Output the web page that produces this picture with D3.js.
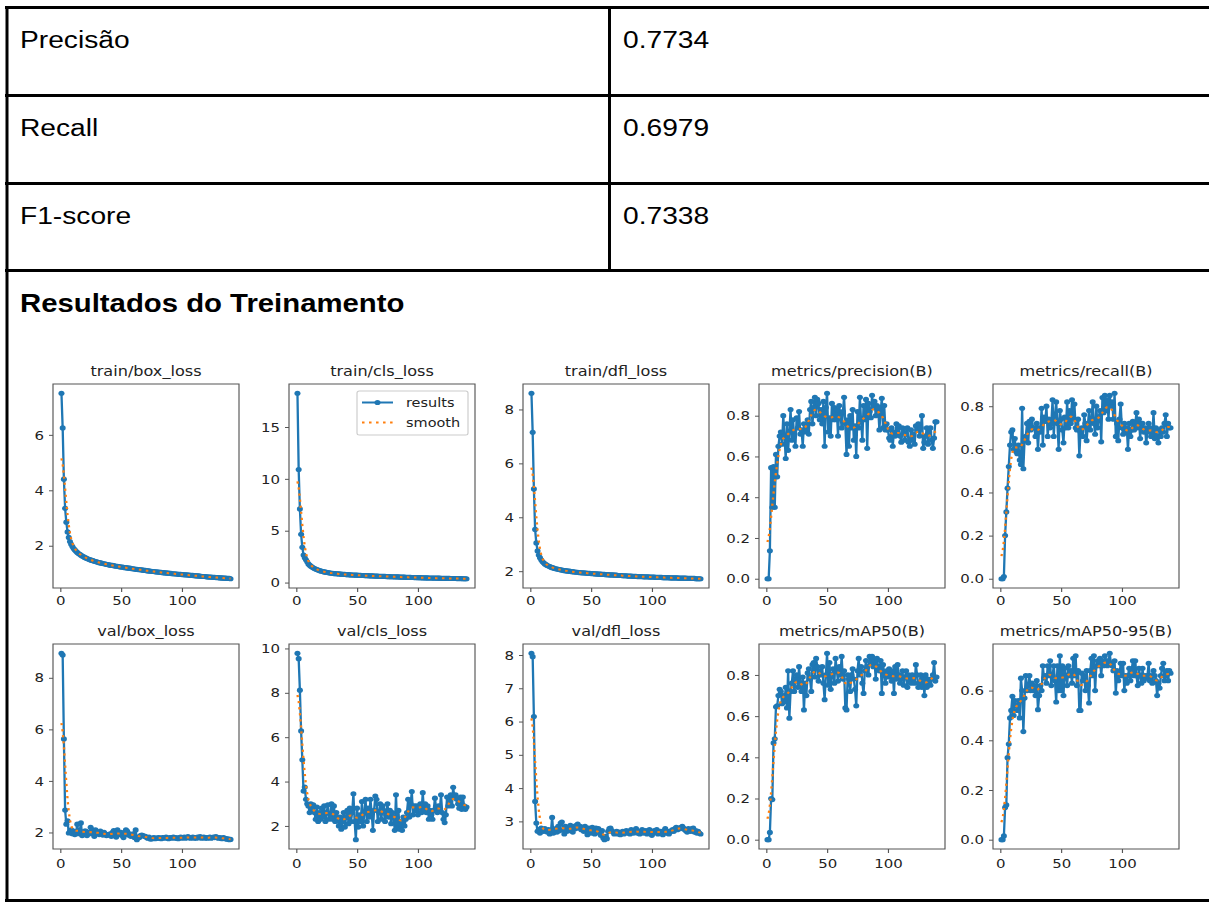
<!DOCTYPE html>
<html><head><meta charset="utf-8">
<script src="https://cdn.jsdelivr.net/npm/d3@7"></script>
<style>
html,body{margin:0;padding:0;background:#fff;}
svg{display:block;}
</style></head><body>
<svg id="chart" width="1209" height="902"></svg>
<script>
// ---------- data ----------
const metricNames = ["Precisão", "Recall", "F1-score"];
const metricValues = ["0.7734", "0.6979", "0.7338"];
const sectionTitle = "Resultados do Treinamento";
const epochs = d3.range(1, 141);
const xTickValues = [0, 50, 100];
const legendLabels = ["results", "smooth"];

const trainBoxLoss = [
7.50,6.25,4.40,3.35,2.85,2.50,2.30,2.15,2.05,1.97,
1.90,1.85,1.80,1.76,1.72,1.69,1.66,1.63,1.61,1.58,
1.56,1.54,1.52,1.50,1.49,1.47,1.46,1.44,1.43,1.42,
1.40,1.39,1.38,1.37,1.36,1.35,1.34,1.33,1.32,1.31,
1.30,1.29,1.29,1.28,1.27,1.26,1.26,1.25,1.24,1.23,
1.23,1.22,1.21,1.21,1.20,1.19,1.19,1.18,1.17,1.17,
1.16,1.15,1.15,1.14,1.14,1.13,1.13,1.12,1.11,1.11,
1.10,1.09,1.09,1.08,1.08,1.07,1.07,1.06,1.06,1.05,
1.05,1.04,1.04,1.03,1.03,1.02,1.02,1.01,1.01,1.00,
1.00,0.99,0.99,0.99,0.98,0.98,0.97,0.97,0.97,0.96,
0.96,0.95,0.95,0.95,0.94,0.94,0.93,0.93,0.93,0.92,
0.92,0.91,0.91,0.91,0.90,0.90,0.89,0.89,0.89,0.88,
0.88,0.87,0.87,0.87,0.86,0.86,0.86,0.85,0.85,0.85,
0.84,0.84,0.84,0.83,0.83,0.83,0.82,0.82,0.82,0.81];

const trainClsLoss = [
18.25,10.90,7.10,4.65,3.40,2.65,2.40,2.20,2.00,1.80,
1.68,1.58,1.50,1.42,1.35,1.30,1.25,1.20,1.16,1.12,
1.09,1.06,1.03,1.00,0.98,0.96,0.94,0.92,0.90,0.89,
0.87,0.86,0.85,0.84,0.83,0.82,0.81,0.80,0.79,0.78,
0.77,0.76,0.76,0.75,0.74,0.73,0.73,0.72,0.71,0.71,
0.70,0.69,0.69,0.68,0.68,0.67,0.67,0.66,0.66,0.65,
0.65,0.64,0.64,0.63,0.63,0.62,0.62,0.61,0.61,0.60,
0.60,0.59,0.59,0.58,0.58,0.57,0.57,0.56,0.56,0.55,
0.55,0.55,0.54,0.54,0.53,0.53,0.52,0.52,0.52,0.51,
0.51,0.50,0.50,0.50,0.49,0.49,0.48,0.48,0.48,0.47,
0.47,0.47,0.46,0.46,0.46,0.45,0.45,0.45,0.44,0.44,
0.44,0.43,0.43,0.43,0.43,0.42,0.42,0.42,0.41,0.41,
0.41,0.41,0.40,0.40,0.40,0.40,0.39,0.39,0.39,0.39,
0.39,0.38,0.38,0.38,0.38,0.38,0.37,0.37,0.37,0.37];

const trainDflLoss = [
8.60,7.15,5.05,3.55,3.05,2.75,2.60,2.50,2.42,2.36,
2.31,2.27,2.24,2.21,2.19,2.17,2.15,2.13,2.12,2.10,
2.09,2.08,2.07,2.06,2.05,2.04,2.03,2.02,2.02,2.01,
2.00,2.00,1.99,1.98,1.98,1.97,1.97,1.96,1.96,1.95,
1.95,1.94,1.94,1.94,1.93,1.93,1.92,1.92,1.92,1.91,
1.91,1.91,1.90,1.90,1.90,1.89,1.89,1.89,1.88,1.88,
1.88,1.87,1.87,1.87,1.86,1.86,1.86,1.86,1.85,1.85,
1.85,1.84,1.84,1.84,1.84,1.83,1.83,1.83,1.83,1.82,
1.82,1.82,1.82,1.81,1.81,1.81,1.81,1.80,1.80,1.80,
1.80,1.80,1.79,1.79,1.79,1.79,1.79,1.78,1.78,1.78,
1.78,1.78,1.77,1.77,1.77,1.77,1.77,1.77,1.76,1.76,
1.76,1.76,1.76,1.76,1.75,1.75,1.75,1.75,1.75,1.75,
1.75,1.74,1.74,1.74,1.74,1.74,1.74,1.74,1.73,1.73,
1.73,1.73,1.73,1.73,1.73,1.72,1.72,1.72,1.72,1.72];

const precisionB = [
0.00,0.00,0.137,0.545,0.35,0.55,0.35,0.61,0.50,0.65,
0.70,0.72,0.66,0.80,0.70,0.59,0.76,0.63,0.72,0.83,
0.68,0.78,0.70,0.65,0.79,0.74,0.82,0.71,0.73,0.65,
0.76,0.72,0.73,0.78,0.71,0.83,0.87,0.76,0.84,0.89,
0.80,0.88,0.86,0.78,0.83,0.76,0.87,0.65,0.84,0.91,
0.72,0.79,0.70,0.86,0.78,0.84,0.78,0.83,0.70,0.85,
0.80,0.74,0.82,0.89,0.76,0.61,0.78,0.65,0.80,0.74,
0.83,0.68,0.75,0.60,0.82,0.74,0.89,0.77,0.68,0.85,
0.78,0.88,0.64,0.86,0.82,0.79,0.90,0.84,0.87,0.80,
0.85,0.84,0.73,0.82,0.885,0.74,0.85,0.73,0.76,0.73,
0.69,0.68,0.74,0.65,0.72,0.70,0.76,0.71,0.75,0.70,
0.67,0.74,0.72,0.68,0.71,0.74,0.67,0.65,0.73,0.68,
0.71,0.66,0.75,0.73,0.76,0.70,0.74,0.80,0.64,0.67,
0.70,0.74,0.66,0.72,0.74,0.68,0.64,0.69,0.77,0.77];

const recallB = [
0.00,0.00,0.01,0.20,0.31,0.42,0.52,0.62,0.68,0.69,
0.60,0.65,0.59,0.58,0.62,0.55,0.53,0.79,0.51,0.64,
0.66,0.72,0.63,0.73,0.69,0.74,0.70,0.70,0.66,0.72,
0.60,0.70,0.68,0.79,0.62,0.75,0.73,0.80,0.66,0.74,
0.70,0.72,0.83,0.66,0.76,0.82,0.72,0.60,0.78,0.74,
0.69,0.63,0.75,0.70,0.82,0.70,0.78,0.72,0.83,0.74,
0.81,0.70,0.69,0.74,0.57,0.68,0.70,0.66,0.76,0.72,
0.64,0.71,0.78,0.69,0.74,0.82,0.72,0.67,0.80,0.70,
0.75,0.78,0.635,0.84,0.77,0.85,0.78,0.83,0.74,0.85,
0.80,0.82,0.74,0.86,0.66,0.72,0.64,0.74,0.81,0.70,
0.67,0.72,0.68,0.70,0.60,0.72,0.66,0.69,0.73,0.69,
0.72,0.77,0.70,0.74,0.65,0.72,0.72,0.68,0.70,0.63,
0.68,0.72,0.70,0.66,0.67,0.77,0.65,0.70,0.66,0.63,
0.69,0.66,0.70,0.68,0.72,0.76,0.66,0.72,0.70,0.70];

const valBoxLoss = [
8.95,8.88,5.63,2.87,2.32,2.45,1.98,2.05,2.10,1.95,
2.05,1.92,2.00,2.32,1.95,2.05,2.37,1.88,1.92,2.05,
2.05,1.88,2.00,1.95,2.20,2.10,1.95,1.85,2.10,1.98,
2.00,1.92,2.05,1.98,1.90,2.00,1.95,1.88,1.92,1.90,
1.95,1.85,2.00,2.07,1.95,1.82,2.10,1.98,1.92,2.00,
1.88,1.80,1.95,2.10,2.05,1.90,1.95,1.85,1.90,1.95,
1.80,2.10,1.72,1.82,1.80,1.88,1.90,1.88,1.85,1.85,
1.80,1.78,1.82,1.75,1.75,1.78,1.80,1.76,1.78,1.78,
1.80,1.78,1.76,1.80,1.78,1.80,1.82,1.78,1.76,1.80,
1.78,1.80,1.82,1.78,1.80,1.78,1.76,1.80,1.82,1.78,
1.80,1.82,1.78,1.80,1.84,1.80,1.78,1.80,1.82,1.78,
1.80,1.78,1.82,1.80,1.84,1.78,1.80,1.82,1.78,1.80,
1.78,1.80,1.82,1.78,1.80,1.82,1.80,1.84,1.80,1.78,
1.80,1.78,1.76,1.80,1.78,1.76,1.74,1.75,1.72,1.73];

const valClsLoss = [
9.78,9.54,8.12,6.28,4.98,3.57,3.75,3.20,3.00,2.90,
2.60,3.00,2.75,2.95,2.60,2.30,2.85,2.20,2.60,2.30,
2.80,2.40,2.90,2.20,2.60,2.95,2.30,2.50,3.00,2.30,
2.90,2.20,2.60,2.40,2.00,2.40,1.85,2.20,2.60,1.95,
2.40,2.70,2.10,2.80,2.20,2.60,3.45,2.20,1.38,2.80,
1.95,2.50,2.20,3.10,2.00,2.60,3.20,2.20,2.80,2.40,
3.20,2.60,1.80,2.70,3.35,3.20,2.20,2.60,3.00,2.30,
2.90,2.70,2.20,2.50,3.00,2.40,2.70,2.10,2.60,2.40,
1.80,3.40,1.90,2.70,1.85,2.20,1.80,2.40,2.00,2.30,
2.60,3.20,2.40,3.00,3.55,2.50,2.90,2.70,2.90,2.50,
2.80,3.00,2.60,3.50,2.70,3.00,2.60,2.90,2.30,2.70,
2.50,2.30,2.70,3.25,2.80,2.60,2.90,2.70,3.40,2.60,
2.30,2.15,2.50,3.30,2.90,3.10,3.40,2.90,3.74,3.30,
3.40,3.20,3.00,2.80,3.30,2.75,3.30,2.90,2.75,2.85];

const valDflLoss = [
8.05,7.95,6.15,3.60,2.95,2.70,2.75,2.65,2.80,2.75,
2.70,2.78,2.72,2.68,2.75,2.62,2.70,3.12,2.65,2.72,
2.78,2.68,2.85,2.72,2.95,2.98,2.75,2.62,2.85,2.70,
2.80,2.72,2.88,2.75,2.68,2.85,2.78,2.88,2.92,2.80,
2.85,2.75,2.82,2.70,2.85,2.78,2.60,2.80,2.72,2.65,
2.82,2.75,2.62,2.80,2.72,2.78,2.65,2.58,2.72,2.50,
2.45,2.55,2.48,2.70,2.78,2.80,2.72,2.68,2.62,2.65,
2.70,2.62,2.68,2.60,2.65,2.70,2.62,2.68,2.72,2.65,
2.70,2.62,2.75,2.68,2.65,2.72,2.78,2.65,2.70,2.62,
2.68,2.75,2.65,2.70,2.72,2.62,2.68,2.75,2.70,2.58,
2.65,2.72,2.68,2.75,2.62,2.68,2.70,2.65,2.60,2.72,
2.78,2.65,2.70,2.62,2.68,2.72,2.75,2.70,2.78,2.82,
2.75,2.80,2.78,2.82,2.85,2.80,2.75,2.72,2.68,2.78,
2.72,2.70,2.78,2.80,2.68,2.72,2.65,2.70,2.65,2.62];

const mAP50B = [
0.00,0.00,0.035,0.20,0.195,0.47,0.49,0.645,0.65,0.70,
0.73,0.72,0.66,0.70,0.67,0.74,0.64,0.82,0.59,0.72,
0.76,0.82,0.72,0.78,0.80,0.74,0.84,0.76,0.72,0.79,
0.63,0.76,0.70,0.81,0.83,0.78,0.72,0.85,0.86,0.79,
0.88,0.84,0.77,0.82,0.80,0.84,0.76,0.68,0.80,0.905,
0.75,0.86,0.73,0.80,0.83,0.76,0.88,0.82,0.77,0.84,
0.80,0.89,0.78,0.82,0.64,0.63,0.80,0.78,0.72,0.80,
0.83,0.78,0.73,0.65,0.82,0.88,0.80,0.84,0.76,0.71,
0.82,0.87,0.84,0.80,0.89,0.86,0.89,0.84,0.87,0.78,
0.88,0.84,0.82,0.87,0.71,0.85,0.81,0.76,0.82,0.79,
0.83,0.80,0.77,0.82,0.71,0.84,0.78,0.85,0.80,0.76,
0.78,0.82,0.75,0.79,0.82,0.74,0.80,0.78,0.76,0.80,
0.78,0.76,0.85,0.80,0.74,0.76,0.80,0.74,0.79,0.70,
0.80,0.74,0.78,0.76,0.75,0.78,0.80,0.86,0.77,0.79];

const mAP5095B = [
0.00,0.00,0.015,0.13,0.14,0.33,0.385,0.49,0.52,0.577,
0.50,0.56,0.54,0.52,0.56,0.49,0.65,0.60,0.435,0.57,
0.66,0.60,0.62,0.66,0.60,0.63,0.60,0.62,0.58,0.64,
0.523,0.58,0.62,0.60,0.70,0.65,0.66,0.63,0.70,0.66,
0.72,0.62,0.66,0.70,0.64,0.554,0.70,0.60,0.74,0.60,
0.70,0.58,0.69,0.66,0.62,0.70,0.66,0.68,0.63,0.73,
0.66,0.74,0.62,0.68,0.52,0.52,0.67,0.64,0.66,0.60,
0.68,0.62,0.55,0.68,0.73,0.66,0.74,0.60,0.70,0.72,
0.70,0.73,0.66,0.72,0.70,0.74,0.72,0.70,0.72,0.75,
0.71,0.70,0.68,0.72,0.59,0.68,0.64,0.66,0.71,0.66,
0.71,0.60,0.66,0.63,0.66,0.69,0.64,0.68,0.72,0.66,
0.72,0.66,0.62,0.69,0.66,0.63,0.69,0.64,0.66,0.65,
0.66,0.71,0.64,0.66,0.63,0.68,0.66,0.64,0.58,0.63,
0.61,0.66,0.69,0.71,0.64,0.66,0.68,0.64,0.68,0.67];

const panelTitles = ["train/box_loss","train/cls_loss","train/dfl_loss","metrics/precision(B)","metrics/recall(B)",
                     "val/box_loss","val/cls_loss","val/dfl_loss","metrics/mAP50(B)","metrics/mAP50-95(B)"];
const panelSeries = [trainBoxLoss, trainClsLoss, trainDflLoss, precisionB, recallB,
                     valBoxLoss, valClsLoss, valDflLoss, mAP50B, mAP5095B];
const panelYTicks = [[2,4,6],[0,5,10,15],[2,4,6,8],[0,0.2,0.4,0.6,0.8],[0,0.2,0.4,0.6,0.8],
                     [2,4,6,8],[2,4,6,8,10],[3,4,5,6,7,8],[0,0.2,0.4,0.6,0.8],[0,0.2,0.4,0.6]];

// ---------- layout (screen pixels) ----------
const SX = 1.15;               // horizontal stretch of the original screenshot
const X = v => v / SX;
const colLeft = [53, 289, 523, 759, 993];
const rowTop = [384, 644];
const axW = 186, axH = [204, 205];
const xLabelPad = [4, 6];
const BLUE = "#1f77b4", ORANGE = "#ff7f0e";
const MPL_FONT = "'DejaVu Sans', Verdana, sans-serif";
const DOC_FONT = "'Liberation Sans', Arial, sans-serif";

// gaussian smoothing as in the original plot (sigma = 3, reflect mode)
function gaussianSmooth(y, sigma) {
  const r = Math.floor(4 * sigma + 0.5);
  const w = d3.range(-r, r + 1).map(k => Math.exp(-0.5 * k * k / (sigma * sigma)));
  const ws = d3.sum(w);
  const n = y.length;
  const idx = i => { while (i < 0 || i >= n) { if (i < 0) i = -i - 1; if (i >= n) i = 2 * n - i - 1; } return i; };
  return y.map((_, i) => d3.sum(w, (wk, j) => wk * y[idx(i + j - r)]) / ws);
}

const svg = d3.select("#chart");
svg.append("rect").attr("width", 1209).attr("height", 902).attr("fill", "#fff");
const root = svg.append("g").attr("transform", `scale(${SX},1)`);
const W = X(1209);

// ---------- table ----------
const grid = root.append("g").attr("stroke", "#000");
[[7.5, 3], [95.5, 3], [183.5, 3], [270.5, 3], [900.5, 3]].forEach(([y, w]) => {
  grid.append("line").attr("x1", X(5)).attr("x2", W).attr("y1", y).attr("y2", y).attr("stroke-width", w);
});
grid.append("line").attr("x1", X(7)).attr("x2", X(7)).attr("y1", 6).attr("y2", 902).attr("stroke-width", X(3));
grid.append("line").attr("x1", X(609.5)).attr("x2", X(609.5)).attr("y1", 6).attr("y2", 272).attr("stroke-width", X(3));

const rowBase = [48.5, 136.5, 224];
root.selectAll("text.mname").data(metricNames).join("text").attr("class", "mname")
  .attr("x", X(20)).attr("y", (d, i) => rowBase[i])
  .attr("font-family", DOC_FONT).attr("font-size", 24.5).attr("fill", "#000").text(d => d);
root.selectAll("text.mval").data(metricValues).join("text").attr("class", "mval")
  .attr("x", X(623)).attr("y", (d, i) => rowBase[i])
  .attr("font-family", DOC_FONT).attr("font-size", 24.5).attr("fill", "#000").text(d => d);
root.append("text").attr("x", X(20)).attr("y", 312)
  .attr("font-family", DOC_FONT).attr("font-size", 25.5).attr("font-weight", "bold").attr("fill", "#000")
  .text(sectionTitle);

// ---------- panels ----------
panelSeries.forEach((series, p) => {
  const r = Math.floor(p / 5), c = p % 5;
  const w = X(axW), h = axH[r];
  const g = root.append("g").attr("transform", `translate(${X(colLeft[c])},${rowTop[r]})`);

  const xPad = 0.05 * (d3.max(epochs) - d3.min(epochs));
  const x = d3.scaleLinear().domain([d3.min(epochs) - xPad, d3.max(epochs) + xPad]).range([0, w]);
  const [lo, hi] = d3.extent(series);
  const yPad = 0.05 * (hi - lo);
  const y = d3.scaleLinear().domain([lo - yPad, hi + yPad]).range([h, 0]);
  const smooth = gaussianSmooth(series, 3);
  const fmt = hi < 1.5 ? d3.format(".1f") : d3.format("d");

  const xa = g.append("g").attr("transform", `translate(0,${h})`)
    .call(d3.axisBottom(x).tickValues(xTickValues).tickSize(4).tickPadding(xLabelPad[r]).tickFormat(d3.format("d")));
  const ya = g.append("g")
    .call(d3.axisLeft(y).tickValues(panelYTicks[p]).tickSize(X(4)).tickPadding(X(5)).tickFormat(fmt));
  [xa, ya].forEach(a => {
    a.select(".domain").remove();
    a.attr("font-family", MPL_FONT).attr("font-size", 13);
    a.selectAll("line").attr("stroke", "#555").attr("stroke-width", 1);
    a.selectAll("text").attr("fill", "#222");
  });

  const line = d3.line().x((d, i) => x(epochs[i])).y(d => y(d));
  g.append("path").datum(series).attr("d", line).attr("fill", "none")
    .attr("stroke", BLUE).attr("stroke-width", 2).attr("stroke-linejoin", "round");
  g.append("g").selectAll("ellipse").data(series).join("ellipse")
    .attr("cx", (d, i) => x(epochs[i])).attr("cy", d => y(d))
    .attr("rx", X(3)).attr("ry", 2.6).attr("fill", BLUE);
  g.append("path").datum(smooth).attr("d", line).attr("fill", "none")
    .attr("stroke", ORANGE).attr("stroke-width", 2).attr("stroke-dasharray", "2.2,3.9");

  g.append("rect").attr("width", w).attr("height", h).attr("fill", "none")
    .attr("stroke", "#555").attr("stroke-width", 1);

  g.append("text").attr("x", w / 2).attr("y", -8).attr("text-anchor", "middle")
    .attr("font-family", MPL_FONT).attr("font-size", 14).attr("fill", "#222").text(panelTitles[p]);

  if (p === 1) {
    const lg = g.append("g");
    lg.append("rect").attr("x", X(68)).attr("y", 7).attr("width", X(111)).attr("height", 44)
      .attr("rx", 2).attr("fill", "#fff").attr("fill-opacity", 0.8).attr("stroke", "#ccc").attr("stroke-width", 1);
    lg.append("line").attr("x1", X(73)).attr("x2", X(104)).attr("y1", 18.5).attr("y2", 18.5)
      .attr("stroke", BLUE).attr("stroke-width", 2);
    lg.append("ellipse").attr("cx", X(88.5)).attr("cy", 18.5).attr("rx", X(3)).attr("ry", 2.6).attr("fill", BLUE);
    lg.append("line").attr("x1", X(73)).attr("x2", X(104)).attr("y1", 38.5).attr("y2", 38.5)
      .attr("stroke", ORANGE).attr("stroke-width", 2).attr("stroke-dasharray", "2.2,3.9");
    lg.selectAll("text").data(legendLabels).join("text")
      .attr("x", X(117)).attr("y", (d, i) => i === 0 ? 23.5 : 43.5)
      .attr("font-family", MPL_FONT).attr("font-size", 12.6).attr("fill", "#222").text(d => d);
  }
});
</script>
</body></html>
